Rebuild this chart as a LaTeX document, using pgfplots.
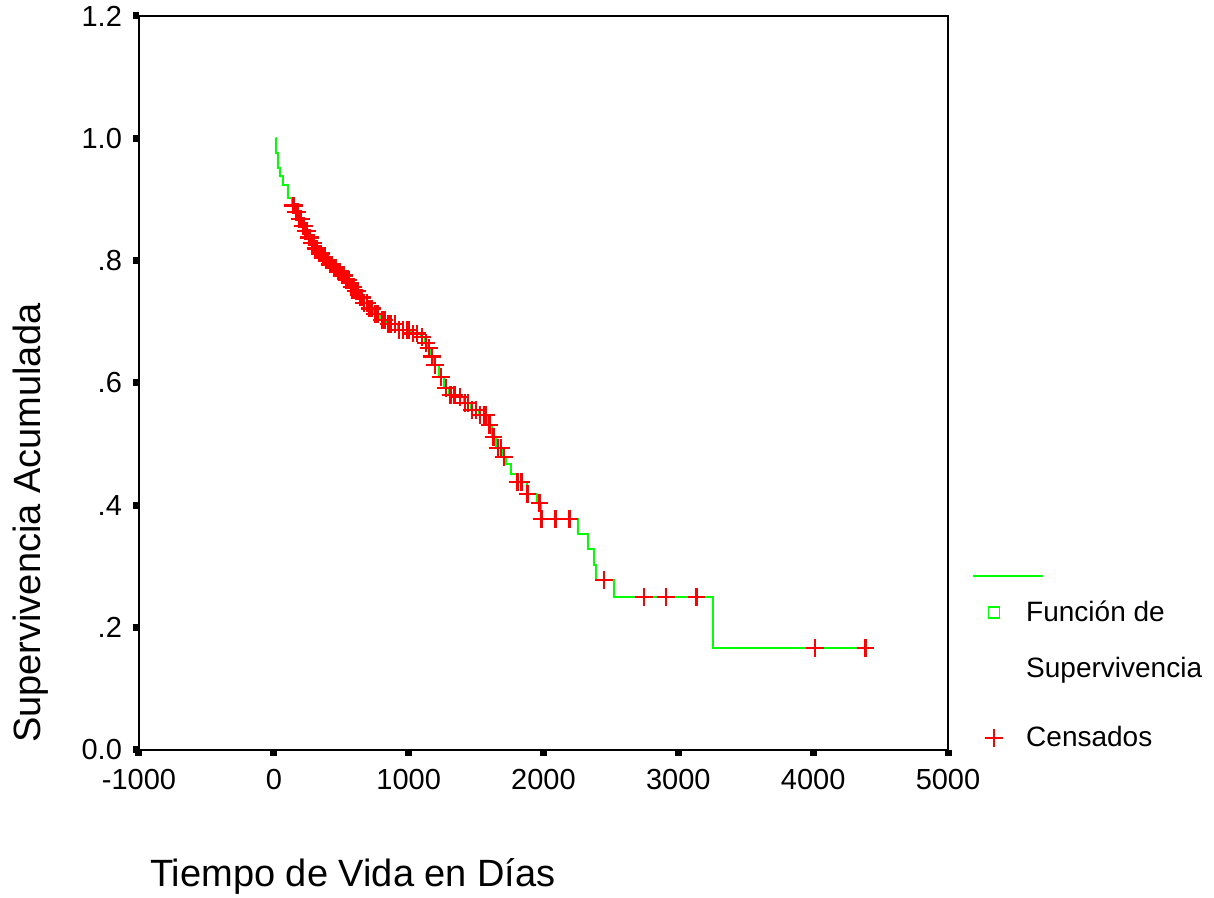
\documentclass[border=0pt]{standalone}
\usepackage{fontspec}
\setmainfont{Liberation Sans}
\usepackage{pgfplots}
\pgfplotsset{compat=1.18}
\definecolor{kmgreen}{RGB}{0,255,0}
\definecolor{kmred}{RGB}{255,0,0}

\begin{document}
\begin{tikzpicture}
\begin{axis}[
    name=ax,
    scale only axis,
    width=404.5pt, height=367pt,
    xmin=-1000, xmax=5000,
    ymin=0, ymax=1.2,
    axis line style={line width=0.8pt},
    xtick={-1000,0,1000,2000,3000,4000,5000},
    xticklabels={-1000,0,1000,2000,3000,4000,5000},
    ytick={0,0.2,0.4,0.6,0.8,1.0,1.2},
    yticklabels={0.0,.2,.4,.6,.8,1.0,1.2},
    xtick pos=bottom, ytick pos=left,
    tick align=outside,
    major tick length=3pt,
    tick style={line width=3.5pt, black},
    ticklabel style={font=\fontsize{14.5}{16}\selectfont},
    xticklabel style={yshift=-3pt},
    yticklabel style={xshift=-2pt},
    xlabel={Tiempo de Vida en Días},
    ylabel={Supervivencia Acumulada},
    xlabel style={font=\fontsize{19}{22}\selectfont, at={(rel axis cs:0.005,-0.172)}, anchor=west},
    ylabel style={font=\fontsize{19}{22}\selectfont, at={(rel axis cs:-0.134,0)}, anchor=west},
    legend style={at={(rel axis cs:1.0297,0.2411)}, anchor=north west,
        draw=none, fill=none, inner sep=0pt, row sep=0pt, column sep=0pt,
        nodes={inner sep=0pt}, font=\fontsize{14}{16}\selectfont},
    legend cell align=left,
]
% Kaplan-Meier survival function
\addplot[kmgreen, line width=1pt, const plot, forget plot] coordinates {
(15,1.0) (16,0.976) (30,0.951) (45,0.938) (67,0.924) (104,0.902) (134,0.890)
(160,0.880) (185,0.868) (210,0.857) (231,0.848) (255,0.838) (280,0.829)
(306,0.820) (335,0.812) (360,0.805) (381,0.800) (410,0.794) (440,0.789)
(470,0.782) (500,0.776) (530,0.768) (567,0.757) (600,0.750) (630,0.740)
(664,0.731) (700,0.722) (740,0.713) (791,0.703) (840,0.696) (918,0.687)
(1015,0.681) (1090,0.675) (1120,0.665) (1142,0.657) (1164,0.643) (1187,0.629)
(1224,0.610) (1260,0.592) (1299,0.580) (1366,0.577) (1410,0.567) (1463,0.556)
(1522,0.548) (1590,0.531) (1620,0.512) (1650,0.494) (1700,0.479) (1720,0.468)
(1761,0.451) (1806,0.438) (1881,0.419) (1950,0.404) (1985,0.378) (2254,0.353)
(2328,0.329) (2373,0.302) (2388,0.278) (2522,0.250) (3254,0.167) (4388,0.167)
};
% censored observations
\addplot[only marks, mark=+, mark size=4.4pt, kmred, mark options={line width=1.2pt}, forget plot] coordinates {
(142,0.890) (150,0.890) (165,0.880) (175,0.880) (190,0.868) (200,0.868)
(215,0.857) (225,0.857) (235,0.848) (245,0.848) (260,0.838) (270,0.838)
(285,0.829) (295,0.829) (310,0.820) (320,0.820) (340,0.812) (350,0.812)
(365,0.805) (375,0.805) (390,0.800) (400,0.800) (415,0.794) (430,0.794)
(445,0.789) (460,0.789) (475,0.782) (490,0.782) (505,0.776) (520,0.776)
(540,0.768) (555,0.768) (575,0.757) (590,0.757) (610,0.750) (620,0.750)
(640,0.740) (655,0.740) (670,0.731) (690,0.731) (710,0.722) (730,0.722)
(750,0.713) (770,0.713) (800,0.703) (820,0.703) (850,0.696) (870,0.696)
(900,0.696) (930,0.687) (960,0.687) (990,0.687) (1000,0.687) (1030,0.681)
(1060,0.681) (1100,0.675) (1130,0.665) (1150,0.657) (1175,0.643) (1195,0.629)
(1240,0.610) (1275,0.592) (1310,0.580) (1340,0.580) (1380,0.577) (1420,0.567)
(1440,0.567) (1470,0.556) (1500,0.556) (1530,0.548) (1560,0.548) (1575,0.548)
(1600,0.531) (1630,0.512) (1664,0.494) (1687,0.494) (1709,0.479) (1806,0.438)
(1836,0.438) (1881,0.419) (1970,0.404) (1985,0.378) (2090,0.378) (2194,0.378)
(2448,0.278) (2746,0.250) (2910,0.250) (3134,0.250) (4015,0.167) (4388,0.167)
};
% legend
\addlegendimage{legend image code/.code={
    \path (0pt,-10pt) (26.5pt,1pt);
    \draw[kmgreen, line width=1pt, overlay] (0pt,0pt) -- (35pt,0pt);}}
\addlegendentry{}
\addlegendimage{legend image code/.code={
    \path (0pt,-13.75pt) (26.5pt,8pt);
    \draw[kmgreen, line width=0.8pt] (7.75pt,-2.75pt) rectangle (13.25pt,2.75pt);}}
\addlegendentry{Función de}
\addlegendimage{legend image code/.code={
    \path (0pt,-17.25pt) (26.5pt,13.75pt);}}
\addlegendentry{Supervivencia}
\addlegendimage{legend image code/.code={
    \path (0pt,-6pt) (26.5pt,17.25pt);
    \draw[kmred, line width=0.8pt] (6pt,0pt) -- (15pt,0pt) (10.5pt,-4.5pt) -- (10.5pt,4.5pt);}}
\addlegendentry{Censados}
\end{axis}
\pgfresetboundingbox
\path[use as bounding box] ([xshift=-69.5pt,yshift=-74pt]ax.south west) rectangle ([xshift=133pt,yshift=8pt]ax.north east);
\end{tikzpicture}
\end{document}
